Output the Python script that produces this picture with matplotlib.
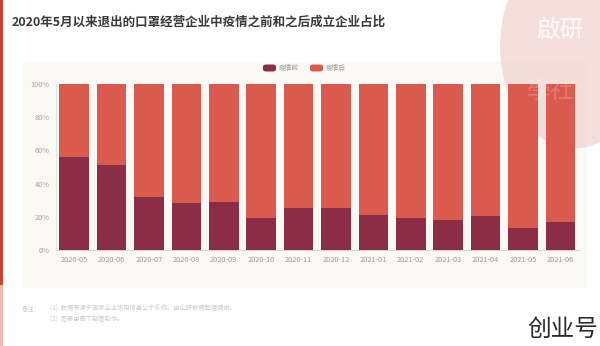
import matplotlib
matplotlib.use("Agg")
import matplotlib.pyplot as plt
from matplotlib.patches import Rectangle, FancyBboxPatch, Ellipse
import numpy as np

plt.rcParams['font.family'] = ['Noto Sans CJK SC', 'DejaVu Sans']

months = ["2020-05", "2020-06", "2020-07", "2020-08", "2020-09", "2020-10", "2020-11",
          "2020-12", "2021-01", "2021-02", "2021-03", "2021-04", "2021-05", "2021-06"]
before = [56.3, 51.5, 32.2, 28.2, 29.0, 19.1, 25.2, 25.4, 21.1, 19.5, 18.3, 20.3, 13.5, 16.7]
after = [100 - v for v in before]
series_names = ["疫情前", "疫情后"]
yticks = [0, 20, 40, 60, 80, 100]

W, H = 600, 346
fig = plt.figure(figsize=(6, 3.46), dpi=100)
fig.patch.set_facecolor("white")

def fx(px):
    return px / W

def fy(py):
    return 1 - py / H

# left red strip
fig.patches.append(Rectangle((0, fy(285)), fx(3), 285 / H, transform=fig.transFigure,
                             facecolor="#c9412f", edgecolor="none", zorder=-5))
fig.patches.append(Rectangle((0, 0), fx(3), fy(285), transform=fig.transFigure,
                             facecolor="#eeb8b0", edgecolor="none", zorder=-5))

# panel background
fig.patches.append(Rectangle((fx(23), fy(288)), 564 / W, 226 / H, transform=fig.transFigure,
                             facecolor="#fbf9f6", edgecolor="none", zorder=-4))

# watermark blob
fig.patches.append(Ellipse((fx(574), fy(46)), 148 / W, 205 / H, transform=fig.transFigure,
                           facecolor="#eec6c2", edgecolor="none", alpha=0.55, zorder=-3))

c_before = "#8a2d45"
c_after = "#da5a4d"

ax = fig.add_axes([fx(55.5), fy(250), (579 - 55.5) / W, (250 - 84) / H])
ax.set_zorder(1)
ax.set_facecolor("none")
x = np.arange(len(months))
ax.bar(x, before, width=0.79, color=c_before, zorder=2)
ax.bar(x, after, bottom=before, width=0.79, color=c_after, zorder=2)
ax.set_xlim(-0.5, len(months) - 0.5)
ax.set_ylim(0, 100)
ax.set_xticks(x)
ax.set_xticklabels(months, fontsize=5.3, color="#9a9a9a")
ax.set_yticks(yticks)
ax.set_yticklabels([f"{v}%" for v in yticks], fontsize=5.3, color="#a5a5a5")
ax.tick_params(axis="both", length=0, pad=4)
for s in ["top", "right"]:
    ax.spines[s].set_visible(False)
ax.spines["left"].set_color("#e2e0dc")
ax.spines["left"].set_linewidth(0.6)
ax.spines["bottom"].set_color("#cfcdc9")
ax.spines["bottom"].set_linewidth(0.6)

# legend
leg_items = [(263, c_before, series_names[0]), (310, c_after, series_names[1])]
for lx, col, name in leg_items:
    fig.patches.append(FancyBboxPatch((fx(lx), fy(71.5)), 13 / W, 7 / H,
                                      boxstyle="round,pad=0,rounding_size=0.006",
                                      transform=fig.transFigure, facecolor=col,
                                      edgecolor="none", zorder=3))
    fig.text(fx(lx + 16), fy(68), name, fontsize=4.8, color="#9a9a9a",
             va="center", ha="left", zorder=3)

# title
fig.text(fx(12), fy(22), "2020年5月以来退出的口罩经营企业中疫情之前和之后成立企业占比",
         fontsize=9, fontweight="bold", color="#3a3a3a", va="center", ha="left")

# watermark text
fig.text(fx(536), fy(30), "啟研", fontsize=17, color="white", alpha=0.85,
         va="center", ha="left", fontweight="light", zorder=5)
fig.text(fx(527), fy(92), "學社", fontsize=17, color="white", alpha=0.2,
         va="center", ha="left", fontweight="light", zorder=5)

# footnotes
fig.text(fx(22), fy(309), "备注：", fontsize=4.5, color="#cccccc", va="center", ha="left")
fig.text(fx(50), fy(309), "(1)  数据来源于国家企业信用信息公示系统，由企研数据整理提供。",
         fontsize=4.5, color="#cccccc", va="center", ha="left")
fig.text(fx(50), fy(320), "(2)  图表由高下制图制作。",
         fontsize=4.5, color="#cccccc", va="center", ha="left")

# brand mark
fig.text(fx(598), fy(329), "创业号", fontsize=17, color="#2a2a2a", fontweight="light",
         va="center", ha="right")

fig.savefig("out.png", dpi=100, facecolor="white")
